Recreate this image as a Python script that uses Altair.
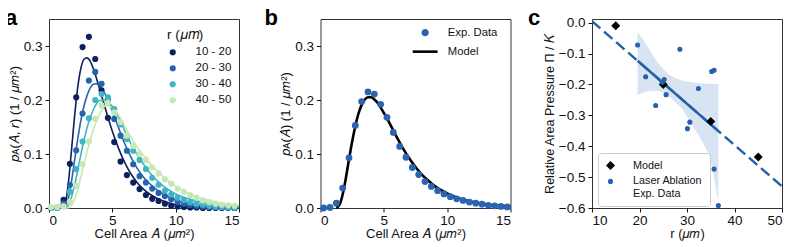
import altair as alt
import pandas as pd

FONT = "Liberation Sans"
W, H = 190, 189
INK = "#111111"

# ---------------- panel a data ----------------
a_x = [0.15, 0.65, 1.15, 1.65, 2.15, 2.65, 3.15, 3.65, 4.15, 4.65,
       5.15, 5.65, 6.15, 6.65, 7.15, 7.65, 8.15, 8.65, 9.15, 9.65,
       10.15, 10.65, 11.15, 11.65, 12.15, 12.65, 13.15, 13.65, 14.15, 14.65]
a_labels = ["10 - 20", "20 - 30", "30 - 40", "40 - 50"]
a_colors = ["#0d1f5e", "#2563ad", "#3eb5c6", "#c5e8b5"]
a_s1 = [0.0, 0.001, 0.015, 0.082, 0.205, 0.298, 0.317, 0.276, 0.218, 0.167,
        0.122, 0.086, 0.061, 0.047, 0.035, 0.024, 0.017, 0.013, 0.008, 0.004,
        0.003, 0.002, 0.001, 0.001, 0.0, 0.0, 0.0, 0.0, 0.0, 0.0]
a_s2 = [0.0, 0.0, 0.008, 0.043, 0.107, 0.175, 0.236, 0.252, 0.230, 0.200,
        0.165, 0.134, 0.106, 0.081, 0.059, 0.047, 0.036, 0.028, 0.022, 0.016,
        0.011, 0.008, 0.006, 0.004, 0.003, 0.002, 0.001, 0.001, 0.001, 0.0]
a_s3 = [0.0, 0.0, 0.004, 0.030, 0.072, 0.123, 0.166, 0.200, 0.211, 0.205,
        0.183, 0.155, 0.128, 0.106, 0.089, 0.072, 0.056, 0.043, 0.032, 0.025,
        0.019, 0.015, 0.011, 0.008, 0.006, 0.004, 0.003, 0.002, 0.001, 0.001]
a_s4 = [0.002, 0.002, 0.003, 0.012, 0.041, 0.081, 0.123, 0.165, 0.190, 0.195,
        0.177, 0.159, 0.134, 0.115, 0.100, 0.089, 0.075, 0.064, 0.053, 0.045,
        0.036, 0.030, 0.024, 0.019, 0.014, 0.011, 0.008, 0.006, 0.005, 0.004]

a_cx = [1.0, 1.25, 1.5, 1.75, 2.0, 2.25, 2.5, 2.75, 3.0, 3.25, 3.5, 3.75, 4.0,
        4.5, 5.0, 5.5, 6.0, 6.5, 7.0, 7.5, 8.0, 9.0, 10.0, 11.0, 12.0, 13.0, 14.0, 15.0]
a_c1 = [0.0, 0.005, 0.040, 0.100, 0.165, 0.220, 0.257, 0.275, 0.278, 0.272, 0.258, 0.240, 0.220,
        0.180, 0.142, 0.110, 0.083, 0.062, 0.046, 0.034, 0.025, 0.013, 0.006, 0.003, 0.0015, 0.0007, 0.0003, 0.0001]
a_c2 = [0.0, 0.002, 0.015, 0.045, 0.085, 0.125, 0.160, 0.188, 0.208, 0.222, 0.229, 0.230, 0.226,
        0.208, 0.180, 0.148, 0.118, 0.093, 0.072, 0.056, 0.044, 0.026, 0.015, 0.009, 0.005, 0.003, 0.0015, 0.0008]
a_c3 = [0.0, 0.0, 0.004, 0.018, 0.040, 0.068, 0.097, 0.124, 0.148, 0.167, 0.182, 0.193, 0.199,
        0.200, 0.188, 0.168, 0.142, 0.118, 0.097, 0.080, 0.064, 0.041, 0.026, 0.017, 0.011, 0.007, 0.004, 0.0025]
a_c4 = [0.0, 0.0, 0.0, 0.004, 0.015, 0.033, 0.056, 0.080, 0.104, 0.126, 0.145, 0.161, 0.174,
        0.190, 0.186, 0.172, 0.150, 0.130, 0.112, 0.096, 0.082, 0.058, 0.040, 0.027, 0.018, 0.012, 0.008, 0.005]

# ---------------- panel b data ----------------
b_x = [0.25, 0.75, 1.25, 1.75, 2.25, 2.75, 3.25, 3.75, 4.25, 4.75,
       5.25, 5.75, 6.25, 6.75, 7.25, 7.75, 8.25, 8.75, 9.25, 9.75,
       10.25, 10.75, 11.25, 11.75, 12.25, 12.75, 13.25, 13.75, 14.25, 14.75]
b_y = [0.0, 0.001, 0.009, 0.037, 0.093, 0.153, 0.197, 0.215, 0.211, 0.192,
       0.168, 0.140, 0.114, 0.094, 0.075, 0.062, 0.049, 0.040, 0.032, 0.026,
       0.021, 0.017, 0.014, 0.011, 0.009, 0.007, 0.005, 0.004, 0.003, 0.002]
b_cx = [1.25, 1.5, 1.75, 2.0, 2.25, 2.5, 2.75, 3.0, 3.25, 3.5, 3.75, 4.0, 4.25, 4.5,
        5.0, 5.5, 6.0, 6.5, 7.0, 7.5, 8.0, 8.5, 9.0, 10.0, 11.0, 12.0, 13.0, 14.0, 15.0]
b_cy = [0.0, 0.006, 0.025, 0.055, 0.090, 0.123, 0.152, 0.175, 0.191, 0.201, 0.205, 0.205, 0.201, 0.195,
        0.176, 0.155, 0.132, 0.111, 0.092, 0.076, 0.062, 0.051, 0.041, 0.027, 0.017, 0.011, 0.007, 0.0045, 0.003]
b_kinds = ["Exp. Data", "Model"]

# ---------------- panel c data ----------------
c_model_r = [15, 25, 35, 45]
c_model_p = [-0.01, -0.20, -0.32, -0.435]
c_exp_r = [19.6, 21.3, 23.4, 24.8, 25.2, 25.6, 28.5, 30.1, 30.6, 32.4, 35.2, 35.7, 35.7, 36.6]
c_exp_p = [-0.072, -0.175, -0.268, -0.193, -0.184, -0.233, -0.086, -0.343, -0.322, -0.213,
           -0.158, -0.154, -0.474, -0.592]
c_fit_r = [10, 50]
c_fit_p = [0.005, -0.530]
c_fit_in_r = [19.6, 36.6]
c_fit_in_p = [-0.123, -0.351]
c_band_r = [19.6, 21, 23, 25, 27, 29, 31, 33, 35, 36.6]
c_band_lo = [-0.235, -0.225, -0.22, -0.225, -0.25, -0.28, -0.33, -0.38, -0.45, -0.58]
c_band_hi = [-0.03, -0.06, -0.11, -0.15, -0.175, -0.187, -0.193, -0.196, -0.198, -0.198]
c_kinds = ["Model", "Laser Ablation Exp. Data"]
c_yticks = [0.0, -0.1, -0.2, -0.3, -0.4, -0.5, -0.6]


def xaxis(title, values, fmt="d"):
    return alt.Axis(title=title, values=values, format=fmt, grid=False, domain=False,
                    tickSize=4, tickColor=INK, labelColor=INK, titleColor=INK,
                    labelFontSize=13.5, titleFontSize=13, labelFont=FONT, titleFont=FONT,
                    titleFontWeight="normal", labelPadding=1, titlePadding=1, labelOverlap=False)


def yaxis(title, values, fmt=".1f", title_size=13):
    return alt.Axis(title=title, values=values, format=fmt, grid=False, domain=False,
                    tickSize=4, tickColor=INK, labelColor=INK, titleColor=INK,
                    labelFontSize=13.5, titleFontSize=title_size, labelFont=FONT, titleFont=FONT,
                    titleFontWeight="normal", labelPadding=3, titlePadding=2, labelOverlap=False)


def panel_label(letter, dx):
    return alt.Chart(pd.DataFrame({"t": [letter]})).mark_text(
        fontSize=22, fontWeight="bold", font=FONT, align="left", baseline="alphabetic", color="black"
    ).encode(text="t:N", x=alt.value(dx), y=alt.value(6))


# ---------- panel a ----------
rows = []
for lab, ys in zip(a_labels, [a_s1, a_s2, a_s3, a_s4]):
    for xv, yv in zip(a_x, ys):
        rows.append({"A": xv, "p": yv, "r": lab})
df_a = pd.DataFrame(rows)

xa = alt.X("A:Q", scale=alt.Scale(domain=[0, 15], nice=False),
           axis=xaxis("Cell Area 𝐴 (𝜇𝑚²)", [0, 5, 10, 15]))
ya = alt.Y("p:Q", scale=alt.Scale(domain=[0, 0.35], nice=False),
           axis=yaxis("𝑝ᴀ(𝐴, 𝑟) (1 / 𝜇𝑚²)", [0, 0.1, 0.2, 0.3]))
cscale = alt.Scale(domain=a_labels, range=a_colors)

a_line_layers = []
for lab, col, ys in zip(a_labels, a_colors, [a_c1, a_c2, a_c3, a_c4]):
    dfl = pd.DataFrame({"A": a_cx, "p": ys})
    a_line_layers.append(
        alt.Chart(dfl).mark_line(strokeWidth=1.6, interpolate="monotone", color=col).encode(x=xa, y=ya))

a_pts = alt.Chart(df_a).mark_circle(size=38, opacity=1).encode(
    x=xa, y=ya,
    color=alt.Color("r:N", scale=cscale, legend=alt.Legend(
        title="r (𝜇𝑚)", orient="none", legendX=118, legendY=9, padding=0,
        titleFont=FONT, titleFontSize=13.5, titleFontWeight="normal", titleColor=INK,
        titleAnchor="start", titleAlign="left", titlePadding=5,
        labelFont=FONT, labelFontSize=11.5, labelColor=INK, labelOffset=17,
        symbolSize=38, symbolType="circle", rowPadding=3)))
panel_a = alt.layer(*a_line_layers, a_pts, panel_label("a", -44)).properties(width=W, height=H)

# ---------- panel b ----------
df_b = pd.DataFrame({"A": b_x, "p": b_y, "kind": [b_kinds[0]] * len(b_x)})
df_bc = pd.DataFrame({"A": b_cx, "p": b_cy})
xb = alt.X("A:Q", scale=alt.Scale(domain=[0, 15], nice=False),
           axis=xaxis("Cell Area 𝐴 (𝜇𝑚²)", [0, 5, 10, 15]))
yb = alt.Y("p:Q", scale=alt.Scale(domain=[0, 0.35], nice=False),
           axis=yaxis("𝑝ᴀ(𝐴) (1 / 𝜇𝑚²)", [0, 0.1, 0.2, 0.3]))
b_line = alt.Chart(df_bc).mark_line(color="black", strokeWidth=2.6, interpolate="monotone").encode(x=xb, y=yb)
b_leg = alt.Legend(title=None, orient="none", legendX=99, legendY=8, padding=0,
                   labelFont=FONT, labelFontSize=11.3, labelColor=INK, labelOffset=17,
                   symbolStrokeWidth=2.6, symbolSize=22, rowPadding=4)
b_pal = ["#2b64b1", "black"]
b_pts = alt.Chart(df_b).mark_point(filled=True, opacity=1, strokeWidth=0, size=46).encode(
    x=xb, y=yb,
    color=alt.Color("kind:N", scale=alt.Scale(domain=b_kinds, range=b_pal), legend=b_leg),
    stroke=alt.Stroke("kind:N", scale=alt.Scale(domain=b_kinds, range=b_pal), legend=b_leg),
    shape=alt.Shape("kind:N", scale=alt.Scale(domain=b_kinds, range=["circle", "M-5.3,0L5.3,0"]), legend=b_leg))
panel_b = alt.layer(b_line, b_pts, panel_label("b", -56)).properties(width=W, height=H)

# ---------- panel c ----------
df_band = pd.DataFrame({"r": c_band_r, "lo": c_band_lo, "hi": c_band_hi})
df_fit = pd.DataFrame({"r": c_fit_r, "P": c_fit_p})
df_fit_in = pd.DataFrame({"r": c_fit_in_r, "P": c_fit_in_p})
df_cp = pd.DataFrame({
    "r": c_model_r + c_exp_r,
    "P": c_model_p + c_exp_p,
    "kind": [c_kinds[0]] * len(c_model_r) + [c_kinds[1]] * len(c_exp_r)})
c_title = "Relative Area Pressure Π / 𝐾"
xc = alt.X("r:Q", scale=alt.Scale(domain=[10, 50], nice=False),
           axis=xaxis("r (𝜇𝑚)", [10, 20, 30, 40, 50]))
yscale_c = alt.Scale(domain=[-0.6, 0.012], nice=False)
yc = alt.Y("P:Q", scale=yscale_c, axis=yaxis(c_title, c_yticks, title_size=12.5))
c_band = alt.Chart(df_band).mark_area(color="#d9e4f2", opacity=1, interpolate="monotone").encode(
    x=xc, y=alt.Y("lo:Q", scale=yscale_c, axis=yaxis(c_title, c_yticks, title_size=12.5)), y2="hi:Q")
c_dash = alt.Chart(df_fit).mark_line(color="#2561a9", strokeWidth=2.5, strokeDash=[11, 5], clip=True).encode(x=xc, y=yc)
c_solid = alt.Chart(df_fit_in).mark_line(color="#2561a9", strokeWidth=2.5).encode(x=xc, y=yc)
c_leg = alt.Legend(title=None, orient="none", legendX=6, legendY=134, padding=7,
                   strokeColor="#cccccc", fillColor="white", cornerRadius=3,
                   labelFont=FONT, labelFontSize=10.8, labelColor=INK, labelOffset=17,
                   rowPadding=4,
                   labelExpr="datum.label == 'Laser Ablation Exp. Data' ? ['Laser Ablation', 'Exp. Data'] : datum.label")
c_pts = alt.Chart(df_cp).mark_point(filled=True, opacity=1).encode(
    x=xc, y=yc,
    color=alt.Color("kind:N", scale=alt.Scale(domain=c_kinds, range=["black", "#2760ab"]), legend=c_leg),
    shape=alt.Shape("kind:N", scale=alt.Scale(domain=c_kinds, range=["diamond", "circle"]), legend=c_leg),
    size=alt.Size("kind:N", scale=alt.Scale(domain=c_kinds, range=[80, 26]), legend=c_leg))
panel_c = alt.layer(c_band, c_dash, c_solid, c_pts, panel_label("c", -64)).properties(width=W, height=H)

chart = alt.hconcat(panel_a, panel_b, panel_c, spacing=81.5, bounds="flush").resolve_scale(
    color="independent", shape="independent", size="independent", stroke="independent"
).configure_view(stroke="#333333", strokeWidth=1).properties(
    padding={"left": -4, "top": -2, "right": 0, "bottom": 0})

chart.save("out.html", embed_options={"renderer": "svg", "actions": False})
